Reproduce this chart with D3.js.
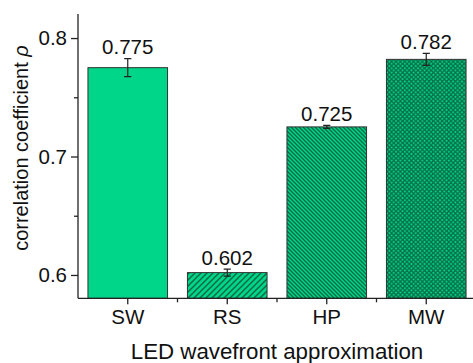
<!DOCTYPE html>
<html><head><meta charset="utf-8">
<script src="https://cdn.jsdelivr.net/npm/d3@7"></script>
<style>body{margin:0;background:#fff}svg{display:block}text{font-family:"Liberation Sans",Arial,sans-serif;fill:#111}</style>
</head><body>
<svg id="c" width="473" height="363"></svg>
<script>
const categories = ["SW", "RS", "HP", "MW"];
const values = [0.775, 0.602, 0.725, 0.782];
const errors = [0.0076, 0.003, 0.0013, 0.005];
const labels = ["0.775", "0.602", "0.725", "0.782"];
const patterns = ["none", "fwd", "back", "cross"];
const yTicks = [0.6, 0.7, 0.8];
const yMinor = [0.65, 0.75];

const svg = d3.select("#c");
const fill = "#00d68a", hatch = "#0a6a44";
const y = d3.scaleLinear().domain([0.5803, 0.8203]).range([298.3, 14]);
const x = d3.scaleBand().domain(categories).range([78, 476]).paddingInner(0.2).paddingOuter(0.1);

const defs = svg.append("defs");
function pat(id, size, paths, sw) {
  const p = defs.append("pattern").attr("id", id).attr("patternUnits", "userSpaceOnUse")
    .attr("width", size).attr("height", size);
  p.append("rect").attr("width", size).attr("height", size).attr("fill", fill);
  paths.forEach(d => p.append("path").attr("d", d).attr("stroke", hatch).attr("stroke-width", sw).attr("fill", "none"));
}
pat("fwd", 6, ["M0,6L6,0", "M-1.5,1.5L1.5,-1.5", "M4.5,7.5L7.5,4.5"], 1.5);
pat("back", 4, ["M0,0L4,4", "M-1,3L1,5", "M3,-1L5,1"], 1.3);
pat("cross", 4.4, ["M0,0L4.4,4.4", "M0,4.4L4.4,0"], 1.2);

const g = svg.append("g");
g.selectAll("rect.bar").data(categories).join("rect").attr("class", "bar")
  .attr("x", d => x(d)).attr("width", x.bandwidth())
  .attr("y", (d, i) => y(values[i])).attr("height", (d, i) => y.range()[0] - y(values[i]))
  .attr("fill", (d, i) => patterns[i] === "none" ? fill : `url(#${patterns[i]})`)
  .attr("stroke", "#333").attr("stroke-width", 1);

// error bars
categories.forEach((c, i) => {
  const cx = x(c) + x.bandwidth() / 2;
  const t = y(values[i] + errors[i]), b = y(values[i] - errors[i]);
  g.append("path").attr("d", `M${cx},${t}V${b}M${cx - 3.6},${t}H${cx + 3.6}M${cx - 3.6},${b}H${cx + 3.6}`)
    .attr("stroke", "#222").attr("stroke-width", 1.2).attr("fill", "none");
  g.append("text").attr("x", cx).attr("y", t - 4.5).attr("text-anchor", "middle")
    .attr("font-size", 20.5).text(labels[i]);
});

// y axis
const ya = svg.append("g").attr("transform", "translate(78,0)")
  .call(d3.axisLeft(y).tickValues(yTicks).tickFormat(d3.format(".1f")).tickSize(7).tickPadding(4));
ya.select(".domain").attr("d", `M0,14V298.3`);
ya.selectAll("text").attr("font-size", 20.5).attr("font-family", '"Liberation Sans",Arial,sans-serif').attr("fill", "#111");
svg.append("g").attr("transform", "translate(78,0)")
  .call(d3.axisLeft(y).tickValues(yMinor).tickFormat("").tickSize(4))
  .select(".domain").remove();

// x axis
const xa = svg.append("g").attr("transform", "translate(0,298.3)")
  .call(d3.axisBottom(x).tickSize(6).tickPadding(5).tickSizeOuter(0));
xa.select(".domain").attr("d", "M78,0H476");
xa.selectAll("text").attr("font-size", 20.5).attr("font-family", '"Liberation Sans",Arial,sans-serif').attr("fill", "#111");
const mids = categories.slice(1).map(c => x(c) - x.step() * x.paddingInner() / 2);
xa.selectAll("line.minor").data(mids).join("line").attr("class", "minor")
  .attr("x1", d => d).attr("x2", d => d).attr("y1", 0).attr("y2", 4).attr("stroke", "#000");

svg.selectAll(".domain, .tick line, line.minor").attr("stroke", "#222").attr("stroke-width", 1.3);

// titles
svg.append("text").attr("x", 277).attr("y", 358.5).attr("text-anchor", "middle")
  .attr("font-size", 22.3).text("LED wavefront approximation");
const yt = svg.append("text").attr("transform", "translate(27.5,148) rotate(-90)")
  .attr("text-anchor", "middle").attr("font-size", 20);
yt.append("tspan").text("correlation coefficient ");
yt.append("tspan").attr("font-style", "italic").text("ρ");
</script>
</body></html>
